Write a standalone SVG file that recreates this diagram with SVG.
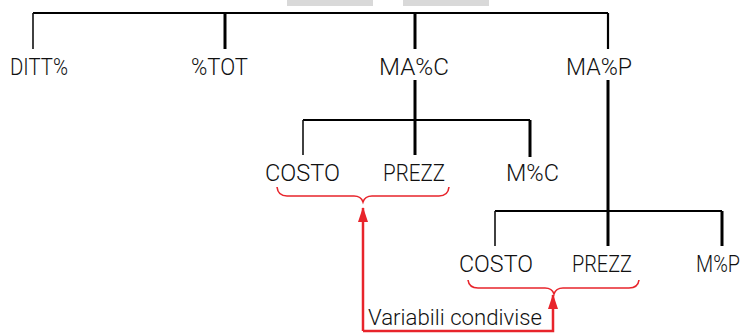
<svg xmlns="http://www.w3.org/2000/svg" width="748" height="334" viewBox="0 0 748 334">
<defs>
<style>
.t{font-family:Roboto,"Liberation Sans",Arial,sans-serif;font-weight:300;font-size:24px;fill:#111;}
.v{font-family:Roboto,"Liberation Sans",Arial,sans-serif;font-weight:300;font-size:22px;fill:#111;}
.thin{stroke:#111;stroke-width:1.6;fill:none;}
.thick{stroke:#000;stroke-width:3;fill:none;}
.hl{stroke:#000;stroke-width:2.2;fill:none;}
.brace{stroke:#e8242b;stroke-width:1.6;fill:none;}
.arrow{stroke:#e8242b;stroke-width:2.5;fill:none;}
</style>
<marker id="ah" markerUnits="userSpaceOnUse" markerWidth="15" markerHeight="10" refX="14" refY="5" orient="auto" viewBox="0 0 15 10">
<path d="M0,0 L15,5 L0,10 Z" fill="#e8242b"/>
</marker>
</defs>
<rect x="287" y="0" width="86" height="6" fill="#d9d9d9"/>
<rect x="403" y="0" width="86" height="6" fill="#d9d9d9"/>
<g id="connectors">
<path class="hl" d="M33,13 H608"/>
<path class="thin" d="M33,13 V49"/>
<path class="thick" d="M225,13 V49"/>
<path class="thick" d="M415,13 V49"/>
<path class="hl" d="M608,13 V49"/>
<path class="thick" d="M415,80 V155"/>
<path class="hl" d="M303,120 H530"/>
<path class="thin" d="M303,120 V155"/>
<path class="thick" d="M530,120 V157"/>
<path class="thick" d="M608,80 V246"/>
<path class="hl" d="M495,211 H722"/>
<path class="thin" d="M495,211 V246"/>
<path class="thick" d="M722,211 V246"/>
<path class="brace" d="M277,187 Q278,196 287,196 H354 Q361,196 363,202 Q365,196 372,196 H439 Q448,196 449,187"/>
<path class="brace" d="M468,280 Q469,288 478,288 H545 Q552,288 554,294 Q556,288 563,288 H629 Q638,288 639,280"/>
<path class="arrow" d="M363,331 V208" marker-end="url(#ah)"/>
<path class="arrow" d="M363,331 H553 V295" marker-end="url(#ah)"/>
</g>
<g id="n-ditt"><text class="t" x="10" y="75" textLength="58" lengthAdjust="spacingAndGlyphs">DITT%</text></g>
<g id="n-tot"><text class="t" x="191" y="75" textLength="57" lengthAdjust="spacingAndGlyphs">%TOT</text></g>
<g id="n-mac"><text class="t" x="379" y="75" textLength="70" lengthAdjust="spacingAndGlyphs">MA%C</text></g>
<g id="n-map"><text class="t" x="566" y="75" textLength="66" lengthAdjust="spacingAndGlyphs">MA%P</text></g>
<g id="n-costo1"><text class="t" x="265" y="181" textLength="75" lengthAdjust="spacingAndGlyphs">COSTO</text></g>
<g id="n-prezz1"><text class="t" x="383" y="181" textLength="62" lengthAdjust="spacingAndGlyphs">PREZZ</text></g>
<g id="n-mc"><text class="t" x="506" y="181" textLength="53" lengthAdjust="spacingAndGlyphs">M%C</text></g>
<g id="n-costo2"><text class="t" x="459" y="272" textLength="74" lengthAdjust="spacingAndGlyphs">COSTO</text></g>
<g id="n-prezz2"><text class="t" x="572" y="272" textLength="60" lengthAdjust="spacingAndGlyphs">PREZZ</text></g>
<g id="n-mp"><text class="t" x="696" y="272" textLength="44" lengthAdjust="spacingAndGlyphs">M%P</text></g>
<g id="label"><text class="v" x="368" y="325" textLength="174" lengthAdjust="spacingAndGlyphs">Variabili condivise</text></g>
</svg>
